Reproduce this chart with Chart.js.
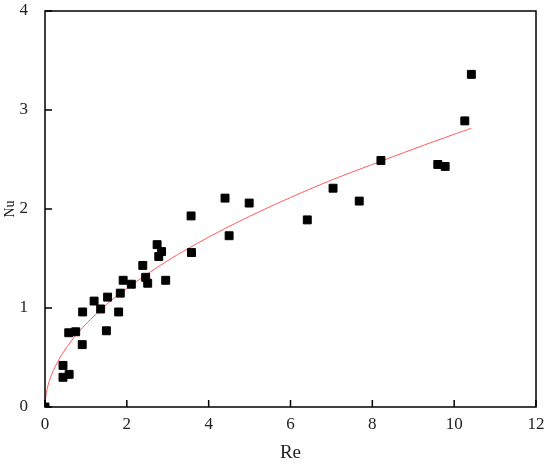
<!DOCTYPE html>
<html>
<head>
<meta charset="utf-8">
<script src="https://cdn.jsdelivr.net/npm/chart.js@4.4.1/dist/chart.umd.min.js"></script>
<style>
  html, body { margin: 0; padding: 0; background: #fff; }
  #wrap { width: 550px; height: 465px; }
</style>
</head>
<body>
<div id="wrap"><canvas id="nuChart" width="550" height="465"></canvas></div>
<script>
// measured points (Re, Nu)
const reValues = [0, 0.44, 0.44, 0.59, 0.58, 0.75, 0.91, 0.92, 1.20, 1.36, 1.50, 1.53, 1.80, 1.84, 1.91,
  2.11, 2.39, 2.46, 2.51, 2.74, 2.85, 2.78, 2.95, 3.58, 4.50, 3.57, 4.40, 4.99,
  6.41, 7.04, 7.68, 8.21, 9.60, 9.78, 10.26, 10.42];
const nuValues = [0, 0.42, 0.30, 0.33, 0.75, 0.76, 0.63, 0.96, 1.07, 0.99, 0.77, 1.11, 0.96, 1.15, 1.28,
  1.24, 1.43, 1.31, 1.25, 1.64, 1.57, 1.52, 1.28, 1.56, 1.73, 1.93, 2.11, 2.06,
  1.89, 2.21, 2.08, 2.49, 2.45, 2.43, 2.89, 3.36];

// fitted curve
const fitRe = [0, 0.02, 0.05, 0.1, 0.2, 0.4, 0.7, 1, 1.5, 2, 3, 4, 5, 6, 7, 8, 9, 10, 10.42];
const fitNu = [0, 0.111, 0.178, 0.255, 0.365, 0.522, 0.697, 0.838, 1.034, 1.199, 1.479, 1.716,
  1.926, 2.116, 2.292, 2.450, 2.605, 2.755, 2.815];

const xTicks = [0, 2, 4, 6, 8, 10, 12];
const yTicks = [0, 1, 2, 3, 4];

const serif = "'Liberation Serif', 'DejaVu Serif', serif";

// box round the plot and inward tick marks
const frame = {
  id: 'frame',
  afterDatasetsDraw(chart) {
    const ctx = chart.ctx;
    const a = chart.chartArea;
    const xs = chart.scales.x, ys = chart.scales.y;
    ctx.save();
    ctx.strokeStyle = '#000';
    ctx.lineWidth = 1.5;
    ctx.strokeRect(a.left, a.top, a.right - a.left, a.bottom - a.top);
    ctx.beginPath();
    xTicks.forEach(v => {
      const px = xs.getPixelForValue(v);
      ctx.moveTo(px, a.bottom);
      ctx.lineTo(px, a.bottom - 7);
    });
    yTicks.forEach(v => {
      const py = ys.getPixelForValue(v);
      ctx.moveTo(a.left, py);
      ctx.lineTo(a.left + 7, py);
    });
    ctx.stroke();
    ctx.restore();
  }
};

const ctx = document.getElementById('nuChart').getContext('2d');
new Chart(ctx, {
  type: 'scatter',
  data: {
    datasets: [
      {
        label: 'Nu',
        data: reValues.map((r, i) => ({ x: r, y: nuValues[i] })),
        pointStyle: 'rect',
        pointRadius: 5.6,
        pointBorderWidth: 1,
        backgroundColor: '#000',
        borderColor: '#000',
        clip: 0,
        order: 1
      },
      {
        label: 'fit',
        type: 'line',
        data: fitRe.map((r, i) => ({ x: r, y: fitNu[i] })),
        borderColor: '#ff5c5c',
        borderWidth: 1,
        pointRadius: 0,
        tension: 0.3,
        fill: false,
        order: 2
      }
    ]
  },
  options: {
    responsive: false,
    animation: false,
    layout: { padding: { top: 11, right: 14, left: 0, bottom: 0 } },
    plugins: {
      legend: { display: false },
      tooltip: { enabled: false }
    },
    scales: {
      x: {
        type: 'linear',
        min: 0,
        max: 12,
        afterBuildTicks: s => { s.ticks = xTicks.map(v => ({ value: v })); },
        afterFit: s => { s.height = 58; s.paddingLeft = 0; s.paddingRight = 0; },
        grid: { display: false },
        border: { display: false },
        ticks: { padding: -1, color: '#222', font: { family: serif, size: 17 } },
        title: { display: true, text: 'Re', color: '#222', padding: { top: 0, bottom: 2 }, font: { family: serif, size: 19, lineHeight: 1 } }
      },
      y: {
        min: 0,
        max: 4,
        afterBuildTicks: s => { s.ticks = yTicks.map(v => ({ value: v })); },
        afterFit: s => { s.width = 45; s.paddingTop = 0; s.paddingBottom = 0; },
        grid: { display: false },
        border: { display: false },
        ticks: { padding: 9, color: '#222', font: { family: serif, size: 17 } },
        title: { display: true, text: 'Nu', color: '#222', padding: { top: 2 }, font: { family: serif, size: 14 } }
      }
    }
  },
  plugins: [frame]
});
</script>
</body>
</html>
